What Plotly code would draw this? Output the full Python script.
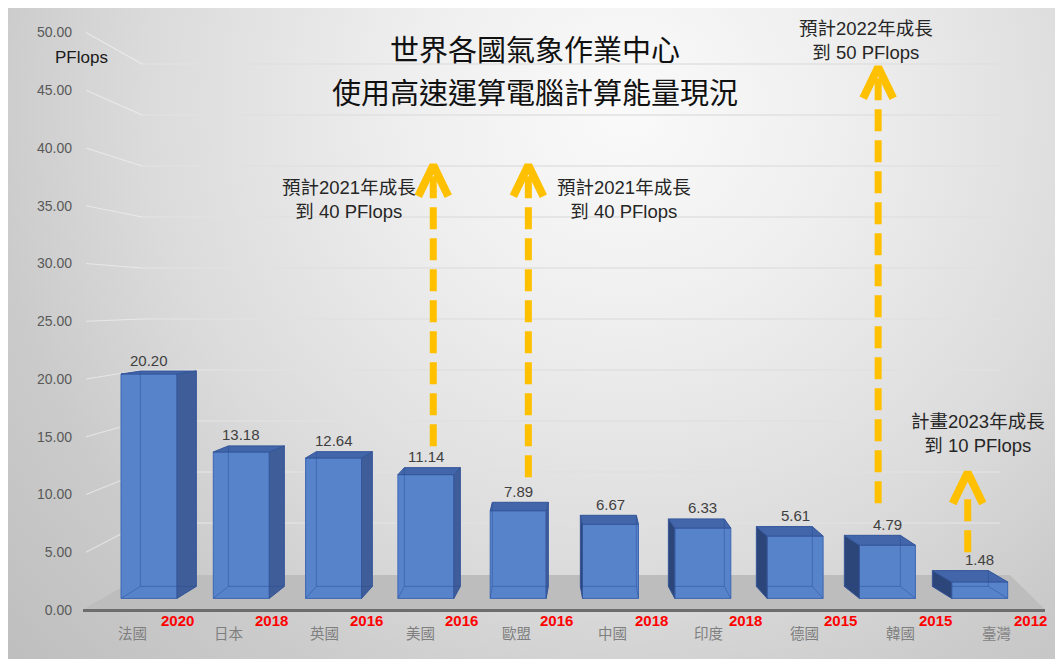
import plotly.graph_objects as go

# ---------------- data ----------------
countries = ['法國', '日本', '英國', '美國', '歐盟', '中國', '印度', '德國', '韓國', '臺灣']
pflops = [20.20, 13.18, 12.64, 11.14, 7.89, 6.67, 6.33, 5.61, 4.79, 1.48]
years = ['2020', '2018', '2016', '2016', '2016', '2018', '2018', '2015', '2015', '2012']
y_ticks = [0, 5, 10, 15, 20, 25, 30, 35, 40, 45, 50]
y_unit = 'PFlops'
title_lines = ['世界各國氣象作業中心', '使用高速運算電腦計算能量現況']

# growth-target notes with arrows (x in category units, y in PFlops axis units)
note_texts = ['預計2021年成長<br>到 40 PFlops', '預計2021年成長<br>到 40 PFlops',
              '預計2022年成長<br>到 50 PFlops', '計畫2023年成長<br>到 10 PFlops']
note_x = [2.17, 5.15, 7.77, 8.98]
note_y = [35.5, 35.5, 49.35, 15.24]
arrow_x = [3.08, 4.11, 7.90, 8.87]
arrow_tip = [38.5, 38.5, 47.0, 11.9]
arrow_base = [14.0, 11.1, 8.9, 5.0]
arrow_from_top = [True, True, True, False]

# ---------------- geometry / style ----------------
W, H = 1063, 659
OFF = 8  # page body margin
CAT0_PX, CAT_STEP = 149.0, 92.3
BAR0_PY, BAR_PPU = 598.4, 11.11
LAB0_PY, LAB_PPU = 610.0, 11.55
WALL0_PY, WALL_PPU = 574.0, 10.2
X_LEFT = 73

FONT = 'Liberation Sans, Noto Sans CJK TC, sans-serif'
CJK = 'Noto Sans CJK TC, Liberation Sans, sans-serif'
YELLOW = '#FFC000'


def cx(px):
    return (px - CAT0_PX) / CAT_STEP


def by(py):
    return (BAR0_PY - py) / BAR_PPU


def ly(py):
    return (LAB0_PY - py) / LAB_PPU


def paper_x(px):
    return (px - OFF) / W


def paper_y(py):
    return 1 - (py - OFF) / H


fig = go.Figure()

# background vignette (own subplot, full figure)
fig.add_trace(go.Scatter(
    x=[-0.42, 1.58, 1.58, -0.42, -0.42], y=[-0.75, -0.75, 2.45, 2.45, -0.75],
    mode='lines', line=dict(width=0), fill='toself',
    fillgradient=dict(type='radial', colorscale=[
        [0, '#fafafa'], [0.2, '#efefef'], [0.45, '#dbdbdb'], [0.6, '#cbcbcb'],
        [0.8, '#bdbdbd'], [1, '#b3b3b3']]),
    hoverinfo='skip', showlegend=False, xaxis='x', yaxis='y'))

# ---------------- bars ----------------
BW = 56 / CAT_STEP
idx = list(range(len(countries)))

fig.add_trace(go.Bar(
    x=idx, y=pflops, width=BW, base=0,
    marker=dict(color='#5783CA', line=dict(color='#3C66B3', width=1)),
    hoverinfo='skip', showlegend=False, xaxis='x2', yaxis='y2'))

annotations = []
for i, v in zip(idx, pflops):
    dxp = 4.3 * (4.5 - i)
    dx = dxp / CAT_STEP
    rt = (12 - 0.45 * v) / BAR_PPU
    rb = 12 / BAR_PPU
    L, R = i - BW / 2, i + BW / 2
    # side face
    e = R if dx > 0 else L
    side_col = '#3F5D98' if dx > 0 else '#2D4679'
    fig.add_trace(go.Scatter(
        x=[e, e, e + dx, e + dx, e], y=[0, v, v + rt, rb, 0],
        mode='lines', fill='toself', fillcolor=side_col,
        line=dict(color='#34569A', width=1),
        hoverinfo='skip', showlegend=False, xaxis='x2', yaxis='y2'))
    # top face
    fig.add_trace(go.Scatter(
        x=[L, R, R + dx, L + dx, L], y=[v, v, v + rt, v + rt, v],
        mode='lines', fill='toself', fillcolor='#4266A9',
        line=dict(color='#34569A', width=1),
        hoverinfo='skip', showlegend=False, xaxis='x2', yaxis='y2'))
    # hidden (see-through) back edges
    h = L + dx if dx > 0 else R + dx
    c0 = L if dx > 0 else R
    fig.add_trace(go.Scatter(
        x=[h, h, None, L + dx, R + dx, None, c0, h],
        y=[rb, v + rt, None, rb, rb, None, 0, rb],
        mode='lines', line=dict(color='rgba(40,75,150,0.45)', width=1),
        hoverinfo='skip', showlegend=False, xaxis='x2', yaxis='y2'))
    # value label
    annotations.append(dict(
        x=i, y=v + rt + 11 / BAR_PPU, xref='x2', yref='y2', text=f'{v:.2f}',
        showarrow=False, font=dict(family=FONT, size=15, color='#404040'),
        xanchor='center', yanchor='middle'))
    # category + year labels
    annotations.append(dict(
        x=i + (-17 + 3.7 * i) / CAT_STEP, y=paper_y(632), xref='x2', yref='paper',
        text=countries[i], showarrow=False,
        font=dict(family=CJK, size=14.5, color='#7f7f7f'),
        xanchor='center', yanchor='middle'))
    annotations.append(dict(
        x=i + (28 + 2.5 * i) / CAT_STEP, y=paper_y(620), xref='x2', yref='paper',
        text=f'<b>{years[i]}</b>', showarrow=False,
        font=dict(family=FONT, size=15, color='#FF0000'),
        xanchor='center', yanchor='middle'))

# ---------------- arrows ----------------
for k in range(len(arrow_x)):
    xk, t, b = arrow_x[k], arrow_tip[k], arrow_base[k]
    hw = 15 / CAT_STEP
    ah = 31 / LAB_PPU
    fig.add_trace(go.Scatter(
        x=[xk - hw, xk, xk + hw], y=[t - ah, t, t - ah], mode='lines',
        line=dict(color=YELLOW, width=8),
        hoverinfo='skip', showlegend=False, xaxis='x2', yaxis='y3'))
    start = t - 11 / LAB_PPU
    ys = [start, b] if arrow_from_top[k] else [b, start - 13 / LAB_PPU]
    fig.add_trace(go.Scatter(
        x=[xk, xk], y=ys, mode='lines',
        line=dict(color=YELLOW, width=7, dash='22px,9px'),
        hoverinfo='skip', showlegend=False, xaxis='x2', yaxis='y3'))
    annotations.append(dict(
        x=note_x[k], y=note_y[k], xref='x2', yref='y3', text=note_texts[k],
        showarrow=False, font=dict(family=FONT, size=18.5, color='#262626'),
        xanchor='center', yanchor='middle', align='center'))

# ---------------- wall, grid, floor (shapes below traces) ----------------
shapes = []
for v in y_ticks[1:]:
    wy = by(WALL0_PY - WALL_PPU * v)
    lyv = by(LAB0_PY - LAB_PPU * v)
    shapes.append(dict(type='line', xref='x2', yref='y2', layer='below',
                       x0=cx(142), y0=wy, x1=cx(1000), y1=wy,
                       line=dict(color='#e0e0e0', width=1.5)))
    shapes.append(dict(type='line', xref='x2', yref='y2', layer='below',
                       x0=cx(86), y0=lyv, x1=cx(142), y1=wy,
                       line=dict(color='rgba(245,245,245,0.6)', width=1.2)))

floor_pts = [(83, 609.5), (143, 575), (1010, 575), (1045, 609.5)]
path = 'M ' + ' L '.join(f'{cx(px)},{by(py)}' for px, py in floor_pts) + ' Z'
shapes.append(dict(type='path', path=path, xref='x2', yref='y2', layer='below',
                   fillcolor='#bdbdbd', line=dict(width=0)))
shapes.append(dict(type='line', xref='x2', yref='y2', layer='below',
                   x0=cx(83), y0=by(610.5), x1=cx(1045), y1=by(610.5),
                   line=dict(color='#6d6d6d', width=3)))

# ---------------- titles ----------------
for line_text, py in zip(title_lines, [48, 91]):
    annotations.append(dict(x=paper_x(535), y=paper_y(py), xref='paper', yref='paper',
                            text=line_text, showarrow=False,
                            font=dict(family=CJK, size=29, color='#111111'),
                            xanchor='center', yanchor='middle'))
annotations.append(dict(x=paper_x(81), y=paper_y(57), xref='paper', yref='paper',
                        text=y_unit, showarrow=False,
                        font=dict(family=FONT, size=17, color='#1a1a1a'),
                        xanchor='center', yanchor='middle'))

hidden = dict(visible=False, fixedrange=True)
fig.update_layout(
    width=W, height=H,
    margin=dict(l=0, r=0, t=0, b=0),
    paper_bgcolor='white', plot_bgcolor='rgba(0,0,0,0)',
    showlegend=False, barmode='overlay',
    xaxis=dict(domain=[0, 1], range=[0, 1], **hidden),
    yaxis=dict(domain=[0, 1], range=[0, 1], **hidden),
    xaxis2=dict(domain=[(X_LEFT - OFF) / W, 1], range=[cx(X_LEFT), cx(W + OFF)],
                anchor='y2', visible=False, fixedrange=True),
    yaxis2=dict(domain=[0, 1], range=[by(H + OFF), by(OFF)], anchor='x2',
                visible=False, fixedrange=True),
    yaxis3=dict(overlaying='y2', anchor='x2', side='left',
                range=[ly(H + OFF), ly(OFF)], tickvals=y_ticks,
                ticktext=[f'{t:.2f}' for t in y_ticks],
                tickfont=dict(family=FONT, size=14, color='#595959'),
                showgrid=False, zeroline=False, showline=False, ticks='',
                fixedrange=True),
    shapes=shapes, annotations=annotations,
)

fig.write_html('out.html')
